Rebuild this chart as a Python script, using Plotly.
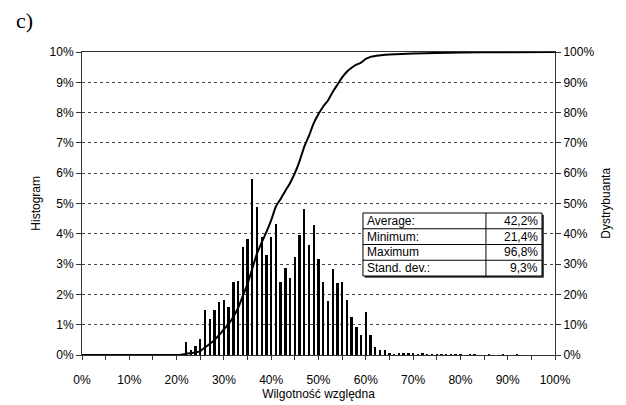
import plotly.graph_objects as go

# Histogram: relative humidity bins (%) and frequency (%)
bins = list(range(0, 101))
hist_nonzero = {
    22: 0.44, 23: 0.16, 24: 0.30, 25: 0.52, 26: 1.50, 27: 1.20, 28: 1.50, 29: 1.76,
    30: 1.80, 31: 1.60, 32: 2.40, 33: 2.45, 34: 3.55, 35: 3.82, 36: 5.80, 37: 4.87,
    38: 3.88, 39: 3.30, 40: 3.90, 41: 4.31, 42: 2.40, 43: 2.88, 44: 2.53, 45: 3.24,
    46: 3.96, 47: 4.82, 48: 3.63, 49: 4.29, 50: 3.17, 51: 2.42, 52: 1.79, 53: 2.85,
    54: 2.37, 55: 2.41, 56: 1.82, 57: 1.24, 58: 0.92, 59: 0.65, 60: 1.42, 61: 0.66,
    62: 0.27, 63: 0.16, 64: 0.17, 65: 0.08, 66: 0.03, 67: 0.05, 68: 0.06, 69: 0.04,
    70: 0.05, 71: 0.03, 72: 0.04, 73: 0.03, 74: 0.03, 75: 0.02, 76: 0.02, 77: 0.02,
    78: 0.02, 79: 0.01, 80: 0.01, 82: 0.01, 83: 0.01, 86: 0.01, 89: 0.01, 92: 0.01,
}
hist_values = [hist_nonzero.get(b, 0.0) for b in bins]

# Cumulative distribution (Dystrybuanta)
cdf_x = [0, 10, 20, 21, 22, 23, 24, 25, 26, 27, 28, 29, 30, 31, 32, 33, 34, 35, 36, 37,
         38, 39, 40, 41, 42, 43, 44, 45, 46, 47, 48, 49, 50, 51, 52, 53, 54, 55, 56, 57,
         58, 59, 60, 61, 62, 63, 64, 65, 70, 75, 80, 90, 100]
cdf_y = [0, 0, 0, 0.1, 0.4, 0.6, 0.8, 1.3, 2.5, 3.6, 5.0, 6.6, 8.5, 10.2, 12.6, 15.5, 19.5,
         23.5, 28.5, 33.5, 37.2, 40.6, 44.5, 49.0, 51.5, 54.2, 56.8, 60.0, 64.0, 68.8, 72.4,
         76.5, 79.5, 82.0, 84.0, 86.8, 89.2, 91.6, 93.5, 94.8, 95.8, 96.5, 97.7, 98.4, 98.7,
         98.9, 99.1, 99.2, 99.5, 99.7, 99.8, 99.95, 100]

# Statistics table
stat_labels = ["Average:", "Minimum:", "Maximum", "Stand. dev.:"]
stat_values = ["42,2%", "21,4%", "96,8%", "9,3%"]

FONT = "Liberation Sans, Arial, sans-serif"

fig = go.Figure()
fig.add_trace(go.Bar(x=bins, y=hist_values, width=0.5,
                     marker=dict(color="black", line=dict(width=0)),
                     yaxis="y", showlegend=False))
fig.add_trace(go.Scatter(x=cdf_x, y=cdf_y, mode="lines", yaxis="y2",
                         line=dict(color="black", width=2, shape="spline", smoothing=0.6),
                         showlegend=False))

fig.update_layout(
    width=626, height=405,
    margin=dict(l=82, r=71, t=52, b=50),
    paper_bgcolor="white", plot_bgcolor="white",
    font=dict(family=FONT, size=12, color="black"),
    xaxis=dict(range=[0, 100], tickmode="array", tickvals=list(range(0, 101, 10)),
               ticktext=[f"{v}%" for v in range(0, 101, 10)],
               ticks="outside", ticklen=4, tickcolor="#333", ticklabelstandoff=10,
               minor=dict(tickmode="array", tickvals=list(range(5, 100, 10)),
                          ticks="outside", ticklen=4, tickcolor="#333"),
               showline=True, linecolor="#333", linewidth=1, mirror=True,
               showgrid=False, zeroline=False, automargin=False,
               title=dict(text="Wilgotność względna", font=dict(size=12), standoff=1)),
    yaxis=dict(range=[0, 10], dtick=1, ticksuffix="%", ticks="outside", ticklen=5,
               tickcolor="#333", showline=True, linecolor="#333", linewidth=1,
               showgrid=True, gridcolor="#444", griddash="dot", gridwidth=1,
               zeroline=False, automargin=False),
    yaxis2=dict(range=[0, 100], dtick=10, ticksuffix="%", overlaying="y", side="right",
                ticks="outside", ticklen=5, tickcolor="#333", showline=True,
                linecolor="#333", linewidth=1, showgrid=False, zeroline=False,
                automargin=False),
    bargap=0,
)

# Axis titles and panel label
fig.add_annotation(text="Histogram", xref="paper", yref="paper", x=-0.099, y=0.5,
                   textangle=-90, showarrow=False, font=dict(size=12), xanchor="center")
fig.add_annotation(text="Dystrybuanta", xref="paper", yref="paper", x=1.106, y=0.5,
                   textangle=-90, showarrow=False, font=dict(size=12), xanchor="center")
fig.add_annotation(text="c)", xref="paper", yref="paper", x=-0.1226, y=1.1056,
                   showarrow=False, xanchor="center", yanchor="middle",
                   font=dict(family="Liberation Serif, Times New Roman, serif", size=22))

# Statistics table
tx0, tx1, txd = 0.594, 0.9725, 0.854
ty_top, ty_bot = 0.4686, 0.2607
rh = (ty_top - ty_bot) / len(stat_labels)
fig.add_shape(type="rect", xref="paper", yref="paper", x0=tx0 + 0.004, x1=tx1 + 0.004,
              y0=ty_bot - 0.006, y1=ty_top - 0.006, line=dict(width=0),
              fillcolor="#333", layer="above")
fig.add_shape(type="rect", xref="paper", yref="paper", x0=tx0, x1=tx1, y0=ty_bot, y1=ty_top,
              line=dict(color="black", width=1), fillcolor="white", layer="above")
fig.add_shape(type="line", xref="paper", yref="paper", x0=txd, x1=txd, y0=ty_bot, y1=ty_top,
              line=dict(color="black", width=1), layer="above")
for i, (lab, val) in enumerate(zip(stat_labels, stat_values)):
    yc = ty_top - (i + 0.5) * rh
    if i > 0:
        fig.add_shape(type="line", xref="paper", yref="paper", x0=tx0, x1=tx1,
                      y0=ty_top - i * rh, y1=ty_top - i * rh,
                      line=dict(color="black", width=1), layer="above")
    fig.add_annotation(text=lab, xref="paper", yref="paper", x=tx0 + 0.004, y=yc,
                       xanchor="left", yanchor="middle", showarrow=False, font=dict(size=12))
    fig.add_annotation(text=val, xref="paper", yref="paper", x=tx1 - 0.004, y=yc,
                       xanchor="right", yanchor="middle", showarrow=False, font=dict(size=12))

fig.write_html("out.html")
